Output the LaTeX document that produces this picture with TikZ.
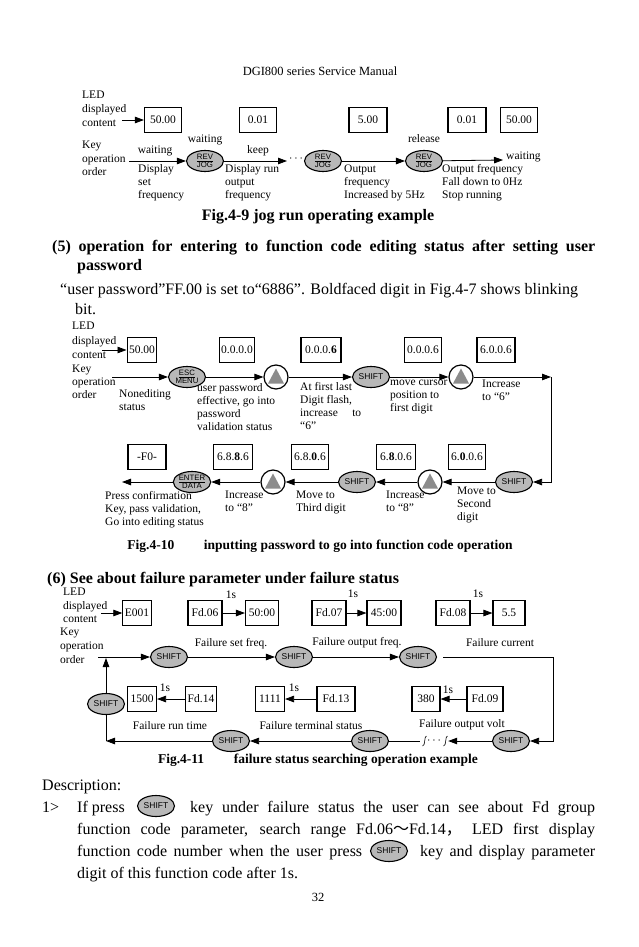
\documentclass[tikz,border=0pt]{standalone}
\usepackage{fontspec}
\setmainfont{Liberation Serif}
\newfontfamily\keyfont{Liberation Sans}
\newfontfamily\cjk{Noto Sans CJK SC}
\usetikzlibrary{arrows.meta,shapes.geometric}
\definecolor{keygray}{gray}{0.72}
\definecolor{trigray}{gray}{0.55}
\begin{document}
\begin{tikzpicture}[x=1pt,y=-1pt,
 txt/.style={font=\fontsize{11.5}{13}\selectfont, inner sep=0pt, align=left},
 nw/.style={txt, anchor=north west},
 bw/.style={txt, anchor=base west},
 led/.style={draw, line width=1.1pt, minimum height=25pt, minimum width=#1, inner sep=2pt, font=\fontsize{11.5}{13}\selectfont},
 key/.style={ellipse, draw, fill=keygray, line width=1.1pt, minimum width=37pt, minimum height=21pt, inner sep=0pt, align=center, font=\keyfont\fontsize{8.5}{8}\selectfont},
 key2/.style={key, font=\keyfont\fontsize{7.8}{7.6}\selectfont},
 upk/.style={circle, draw, line width=1.2pt, minimum size=24pt, inner sep=0pt,
   path picture={\fill[trigray] ([yshift=8.5pt]path picture bounding box.center) -- ++(8,15) -- ++(-16,0) -- cycle;}},
 arr/.style={-{Triangle[length=9pt,width=6.5pt]}, line width=0.8pt},
 ln/.style={line width=0.8pt},
 body/.style={inner sep=0pt, anchor=base west, font=\fontsize{16}{18}\selectfont},
 capt/.style={inner sep=0pt, font=\bfseries\fontsize{13.5}{16}\selectfont}
]
\useasboundingbox[fill=white] (0,0) rectangle (638,947);

% header
\node[font=\fontsize{12.5}{14}\selectfont] (hdr) at (320,71) {DGI800 series Service Manual};

% ---------------- Fig 4-9
\node[nw, font=\fontsize{11.5}{14}\selectfont] (led1) at (82,91) {LED\\displayed\\content};
\node[led=37pt] (a1) at (163,120) {50.00};
\node[led=37pt] (a2) at (258,120) {0.01};
\node[led=38pt] (a3) at (368,120) {5.00};
\node[led=38pt] (a4) at (467,120) {0.01};
\node[led=37pt] (a5) at (519,120) {50.00};
\coordinate (c1) at (122,120);
\draw[arr] (c1) -- (a1);
\node[nw, font=\fontsize{11.5}{13.5}\selectfont] (key1) at (82,141) {Key\\operation\\order};
\node[key2] (j1) at (205,161) {\underline{REV}\\JOG};
\node[key2] (j2) at (323,161) {\underline{REV}\\JOG};
\node[key2] (j3) at (424,161) {\underline{REV}\\JOG};
\coordinate (c2) at (129,161);
\draw[arr] (c2) -- (j1);
\node[txt] (t1) at (155,151) {waiting};
\node[txt] (t2) at (205,140) {waiting};
\node[nw] (t3) at (138,164) {Display\\set\\frequency};
\coordinate (c3) at (287,161);
\draw[arr] (j1) -- (c3);
\node[txt] (t4) at (258,151) {keep};
\node[txt] (dots) at (296,159) {$\cdots$};
\draw[arr] (j2) -- (j3);
\node[nw] (t5) at (225,164) {Display run\\output\\frequency};
\node[nw] (t6) at (344,165) {Output\\frequency\\Increased by 5Hz};
\node[txt] (t7) at (424,139) {release};
\coordinate (c4) at (503,160);
\draw[arr] (j3) -- (c4);
\node[txt, anchor=west] (t8) at (506,157) {waiting};
\node[nw] (t9) at (442,164) {Output frequency\\Fall down to 0Hz\\Stop running};
\node[inner sep=0pt, font=\bfseries\fontsize{16}{18}\selectfont] (cap1) at (318,217) {Fig.4-9 jog run operating example};

% ---------------- section 5
\node[body, font=\bfseries\fontsize{16}{18}\selectfont] (h5a) at (52,251) {\makebox[543pt][s]{(5) operation for entering to function code editing status after setting user}};
\node[body, font=\bfseries\fontsize{16}{18}\selectfont] (h5b) at (77,270) {password};
\node[body] (p5a) at (60,294) {“user password”FF.00 is set to“6886”. Boldfaced digit in Fig.4-7 shows blinking};
\node[body] (p5b) at (75,314) {bit.};

% ---------------- Fig 4-10
\node[nw, font=\fontsize{11.5}{14.5}\selectfont] (led2) at (72,322) {LED\\displayed\\content};
\node[led=29pt] (b1) at (142,350) {50.00};
\node[led=31pt] (b2) at (237,350) {0.0.0.0};
\node[led=40pt] (b3) at (321,350) {0.0.0.\textbf{6}};
\node[led=37pt] (b4) at (423,350) {0.0.0.6};
\node[led=38pt] (b5) at (496,350) {6.0.0.6};
\coordinate (d0) at (102,350);
\draw[arr] (d0) -- (b1);
\node[nw] (key2) at (72,365) {Key\\operation\\order};
\coordinate (d1) at (112,377);
\node[key2] (e1) at (187,377) {\underline{ESC}\\MENU};
\node[upk] (u1) at (276,377) {};
\node[key] (s1) at (371,377) {SHIFT};
\node[upk] (u2) at (461,377) {};
\coordinate (d2) at (551,377);
\coordinate (d3) at (551,482);
\node[key] (s2) at (514,482) {SHIFT};
\node[upk] (u3) at (430,482) {};
\node[key] (s3) at (357,482) {SHIFT};
\node[upk] (u4) at (273,482) {};
\node[key2] (e2) at (192,482) {\underline{ENTER}\\DATA};
\coordinate (d4) at (122,482);
\draw[arr] (d1) -- (e1);
\draw[arr] (e1) -- (u1);
\draw[arr] (u1) -- (s1);
\draw[arr] (s1) -- (u2);
\draw[arr] (u2) -- (d2);
\draw[arr] (d2) -- (d3) -- (s2);
\draw[arr] (s2) -- (u3);
\draw[arr] (u3) -- (s3);
\draw[arr] (s3) -- (u4);
\draw[arr] (u4) -- (e2);
\draw[arr] (e2) -- (d4);
\node[nw] (n1) at (119,389) {Nonediting\\status};
\node[nw] (n2) at (197,383) {user password\\effective, go into\\password\\validation status};
\node[nw] (n3) at (300,382) {At first last\\Digit flash,\\increase\quad\ to\\ “6”};
\node[nw] (n4) at (390,380) {move cursor\\position to\\first digit};
\node[nw] (n5) at (482,380) {Increase\\to “6”};
\node[led=37pt] (r1) at (467,457) {6.\textbf{0}.0.6};
\node[led=39pt] (r2) at (396,457) {6.\textbf{8}.0.6};
\node[led=37pt] (r3) at (310,457) {6.8.\textbf{0}.6};
\node[led=39pt] (r4) at (233,457) {6.8.\textbf{8}.6};
\node[led=38pt] (r5) at (147,457) {-F0-};
\node[nw] (m1) at (457,487) {Move to\\Second\\digit};
\node[nw] (m2) at (386,491) {Increase\\to “8”};
\node[nw] (m3) at (296,491) {Move to\\Third digit};
\node[nw] (m4) at (225,491) {Increase\\to “8”};
\node[nw] (m5) at (105,491) {Press confirmation\\Key, pass validation,\\Go into editing status};
\node[capt] (cap2) at (320,546) {Fig.4-10\hspace{2.2em}inputting password to go into function code operation};

% ---------------- section 6
\node[body, font=\bfseries\fontsize{16}{18}\selectfont] (h6) at (47,583) {(6) See about failure parameter under failure status};

% ---------------- Fig 4-11
\node[nw, font=\fontsize{11.5}{13.5}\selectfont] (led3) at (63,588) {LED\\displayed\\content};
\coordinate (f0) at (101,613);
\node[led=25pt] (g1) at (137,613) {E001};
\node[led=34pt] (g2) at (205,613) {Fd.06};
\node[led=33pt] (g3) at (262,613) {50:00};
\node[led=34pt] (g4) at (329,613) {Fd.07};
\node[led=34pt] (g5) at (384,613) {45:00};
\node[led=34pt] (g6) at (453,613) {Fd.08};
\node[led=32pt] (g7) at (509,613) {5.5};
\draw[arr] (f0) -- (g1);
\draw[arr] (g2) -- (g3);
\draw[arr] (g4) -- (g5);
\draw[arr] (g6) -- (g7);
\node[txt] (o1) at (231,595) {1s};
\node[txt] (o2) at (353,594) {1s};
\node[txt] (o3) at (478,594) {1s};
\node[nw, font=\fontsize{11.5}{14}\selectfont] (key3) at (60,628) {Key\\operation\\order};
\coordinate (f1) at (98,657);
\node[key] (h1) at (169,657) {SHIFT};
\node[key] (h2) at (294,657) {SHIFT};
\node[key] (h3) at (418,657) {SHIFT};
\draw[arr] (f1) -- (h1);
\draw[arr] (h1) -- (h2);
\draw[arr] (h2) -- (h3);
\node[txt] (q1) at (231,644) {Failure set freq.};
\node[txt] (q2) at (357,643) {Failure output freq.};
\node[txt] (q3) at (500,643) {Failure current};
\coordinate (f2) at (553,657);
\coordinate (f3) at (553,741);
\node[key] (h4) at (511,741) {SHIFT};
\node[txt, inner xsep=7pt] (brk) at (434,741) {$\cdots$};
\draw[line width=0.6pt] (426.5,736) .. controls (424,735.5) and (425.5,746.5) .. (422.5,746);
\draw[line width=0.6pt] (447.5,736) .. controls (445,735.5) and (446.5,746.5) .. (443.5,746);
\node[key] (h5) at (370,741) {SHIFT};
\node[key] (h6) at (231,741) {SHIFT};
\coordinate (f4) at (106,741);
\node[key] (h7) at (106,704) {SHIFT};
\coordinate (f5) at (106,658);
\draw[ln, shorten <=6pt] (h3) -- (f2);
\draw[arr] (f2) -- (f3) -- (h4);
\draw[arr] (h4) -- (brk);
\draw[ln] (brk) -- (h5);
\draw[arr] (h5) -- (h6);
\draw[arr] (h6) -- (f4);
\draw[ln] (f4) -- (h7);
\draw[arr] (h7) -- (f5);
\node[led=36pt] (k1) at (485,699) {Fd.09};
\node[led=28pt] (k2) at (426,699) {380};
\node[led=38pt] (k3) at (336,699) {Fd.13};
\node[led=29pt] (k4) at (270,699) {1111};
\node[led=31pt] (k5) at (201,699) {Fd.14};
\node[led=29pt] (k6) at (142,699) {1500};
\draw[arr] (k1) -- (k2);
\draw[arr] (k3) -- (k4);
\draw[arr] (k5) -- (k6);
\node[txt] (v1) at (448,690) {1s};
\node[txt] (v2) at (294,688) {1s};
\node[txt] (v3) at (165,688) {1s};
\node[txt] (w1) at (462,725) {Failure output volt};
\node[txt] (w2) at (311,726) {Failure terminal status};
\node[txt] (w3) at (170,726) {Failure run time};
\node[capt] (cap3) at (318,760) {Fig.4-11\hspace{2.2em}failure status searching operation example};

% ---------------- description
\node[body] (ds0) at (42,790) {Description:};
\node[body] (ds1) at (42,812) {1>};
\node[body] (ds2) at (77,812) {If press};
\node[key] (ks1) at (156,806) {SHIFT};
\node[body] (ds3) at (190,812) {\makebox[405pt][s]{key under failure status the user can see about Fd group}};
\node[body] (ds4) at (77,834) {\makebox[518pt][s]{function code parameter, search range Fd.06{\cjk ～}Fd.14{\cjk ，} LED first display}};
\node[body] (ds5) at (77,856) {\makebox[285pt][s]{function code number when the user press}};
\node[key] (ks2) at (389,851) {SHIFT};
\node[body] (ds6) at (420,856) {\makebox[175pt][s]{key and display parameter}};
\node[body] (ds7) at (77,878) {digit of this function code after 1s.};
\node[font=\fontsize{12.5}{14}\selectfont] (pg) at (318,897) {32};
\end{tikzpicture}
\end{document}
